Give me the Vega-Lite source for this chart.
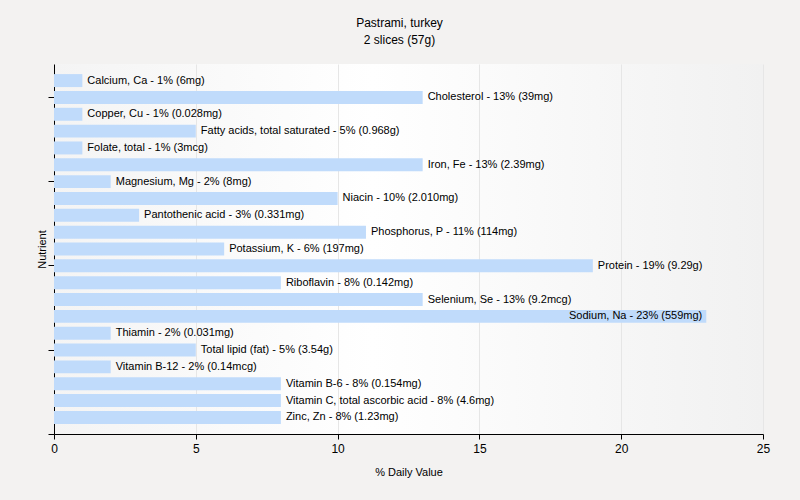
{
  "$schema": "https://vega.github.io/schema/vega-lite/v6.json",
  "width": 709,
  "height": 370,
  "autosize": {"type": "none"},
  "padding": {"left": 54, "top": 64, "right": 37, "bottom": 66},
  "background": "#f3f2f1",
  "title": {
    "text": ["Pastrami, turkey", "2 slices (57g)"],
    "anchor": "middle",
    "dx": -9,
    "offset": 17,
    "font": "Liberation Sans",
    "fontSize": 12,
    "fontWeight": "normal",
    "lineHeight": 17,
    "color": "#000000"
  },
  "config": {
    "view": {
      "stroke": null,
      "fill": {
        "gradient": "linear",
        "x1": 0, "y1": 0, "x2": 1, "y2": 0,
        "stops": [
          {"offset": 0, "color": "#f4f4f4"},
          {"offset": 0.45, "color": "#ffffff"},
          {"offset": 1, "color": "#f1f1f1"}
        ]
      }
    },
    "axis": {"labelFont": "Liberation Sans", "titleFont": "Liberation Sans", "labelColor": "#000", "titleColor": "#000", "titleFontWeight": "normal"}
  },
  "data": {
    "values": [
      {"nutrient": "Calcium, Ca", "dv": 1, "label": "Calcium, Ca - 1% (6mg)"},
      {"nutrient": "Cholesterol", "dv": 13, "label": "Cholesterol - 13% (39mg)"},
      {"nutrient": "Copper, Cu", "dv": 1, "label": "Copper, Cu - 1% (0.028mg)"},
      {"nutrient": "Fatty acids, total saturated", "dv": 5, "label": "Fatty acids, total saturated - 5% (0.968g)"},
      {"nutrient": "Folate, total", "dv": 1, "label": "Folate, total - 1% (3mcg)"},
      {"nutrient": "Iron, Fe", "dv": 13, "label": "Iron, Fe - 13% (2.39mg)"},
      {"nutrient": "Magnesium, Mg", "dv": 2, "label": "Magnesium, Mg - 2% (8mg)"},
      {"nutrient": "Niacin", "dv": 10, "label": "Niacin - 10% (2.010mg)"},
      {"nutrient": "Pantothenic acid", "dv": 3, "label": "Pantothenic acid - 3% (0.331mg)"},
      {"nutrient": "Phosphorus, P", "dv": 11, "label": "Phosphorus, P - 11% (114mg)"},
      {"nutrient": "Potassium, K", "dv": 6, "label": "Potassium, K - 6% (197mg)"},
      {"nutrient": "Protein", "dv": 19, "label": "Protein - 19% (9.29g)"},
      {"nutrient": "Riboflavin", "dv": 8, "label": "Riboflavin - 8% (0.142mg)"},
      {"nutrient": "Selenium, Se", "dv": 13, "label": "Selenium, Se - 13% (9.2mcg)"},
      {"nutrient": "Sodium, Na", "dv": 23, "label": "Sodium, Na - 23% (559mg)"},
      {"nutrient": "Thiamin", "dv": 2, "label": "Thiamin - 2% (0.031mg)"},
      {"nutrient": "Total lipid (fat)", "dv": 5, "label": "Total lipid (fat) - 5% (3.54g)"},
      {"nutrient": "Vitamin B-12", "dv": 2, "label": "Vitamin B-12 - 2% (0.14mcg)"},
      {"nutrient": "Vitamin B-6", "dv": 8, "label": "Vitamin B-6 - 8% (0.154mg)"},
      {"nutrient": "Vitamin C, total ascorbic acid", "dv": 8, "label": "Vitamin C, total ascorbic acid - 8% (4.6mg)"},
      {"nutrient": "Zinc, Zn", "dv": 8, "label": "Zinc, Zn - 8% (1.23mg)"}
    ]
  },
  "layer": [
    {
      "layer": [
        {
          "mark": {"type": "bar", "color": "#c0dbfb"},
          "encoding": {
            "y": {"field": "nutrient", "type": "nominal", "sort": null, "axis": null,
                  "scale": {"paddingInner": 0.23, "paddingOuter": 0.6}},
            "x": {"field": "dv", "type": "quantitative",
                  "scale": {"domain": [0, 25], "nice": false},
                  "axis": {"values": [0, 5, 10, 15, 20, 25], "title": "% Daily Value", "titleFontSize": 11, "titlePadding": 12,
                           "labelFontSize": 12, "labelPadding": 4, "labelFlush": false, "tickSize": 5, "tickColor": "#000", "domainColor": "#000",
                           "gridColor": "#e6e6e6", "grid": true}}
          }
        },
        {
          "transform": [{"filter": "datum.dv < 20"}],
          "mark": {"type": "text", "align": "left", "dx": 5, "font": "Liberation Sans", "fontSize": 11, "color": "#000"},
          "encoding": {
            "y": {"field": "nutrient", "type": "nominal", "sort": null, "axis": null},
            "x": {"field": "dv", "type": "quantitative"},
            "text": {"field": "label"}
          }
        },
        {
          "transform": [{"filter": "datum.dv >= 20"}],
          "mark": {"type": "text", "align": "right", "dx": -4, "font": "Liberation Sans", "fontSize": 11, "color": "#000"},
          "encoding": {
            "y": {"field": "nutrient", "type": "nominal", "sort": null, "axis": null},
            "x": {"field": "dv", "type": "quantitative"},
            "text": {"field": "label"}
          }
        }
      ]
    },
    {
      "mark": {"type": "point", "opacity": 0},
      "encoding": {
        "y": {"datum": 0, "type": "quantitative",
              "scale": {"domain": [0, 4.389], "nice": false},
              "axis": {"values": [0, 1, 2, 3, 4], "labels": false, "title": "Nutrient", "titleFontSize": 11,
                       "titlePadding": 0, "tickSize": 6, "tickColor": "#000", "domainColor": "#000", "grid": false}}
      }
    }
  ],
  "resolve": {"scale": {"y": "independent"}}
}
